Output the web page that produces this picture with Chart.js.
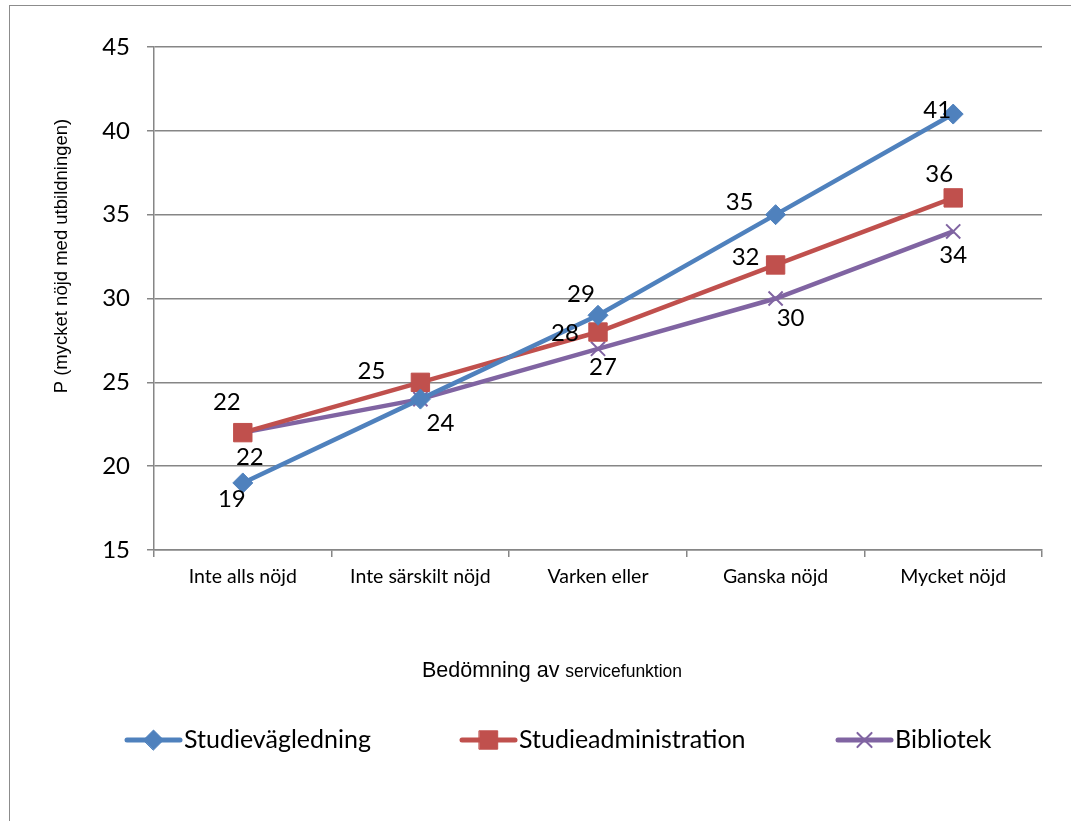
<!DOCTYPE html>
<html>
<head>
<meta charset="utf-8">
<script src="https://cdn.jsdelivr.net/npm/chart.js@4.4.1/dist/chart.umd.min.js"></script>
<style>
  html, body { margin: 0; padding: 0; background: #fff; }
  #wrap { position: relative; width: 1071px; height: 821px; overflow: hidden; }
  #frame { position: absolute; left: 9px; top: 5px; width: 1080px; height: 840px; border: 1.5px solid #8c8c8c; box-sizing: border-box; }
  canvas { position: absolute; left: 0; top: 0; }
</style>
</head>
<body>
<div id="wrap">
  <div id="frame"></div>
  <canvas id="chart" width="1071" height="821"></canvas>
</div>
<script>
// Categories and values
const categories = ['Inte alls nöjd', 'Inte särskilt nöjd', 'Varken eller', 'Ganska nöjd', 'Mycket nöjd'];
const studievagledning = [19, 24, 29, 35, 41];
const studieadministration = [22, 25, 28, 32, 36];
const bibliotek = [22, 24, 27, 30, 34];
const yTicks = [15, 20, 25, 30, 35, 40, 45];

// Data label placement (offset from point), null = label hidden
const labelOffsets = [
    [[-11, 16], null, [-17, -21], [-36, -12], [-16, -4]],
    [[-16, -30], [-49, -11], [-33, 1], [-30, -8], [-14, -24]],
    [[7, 25], [20, 24], [5, 18], [15, 20], [0, 24]]
];

const colors = ['#4F81BD', '#C0504D', '#8064A2'];
const tickFont = 'Lato, "Open Sans", sans-serif';
const titleFont = 'Arial, "Liberation Sans", sans-serif';

const labelPlugin = {
    id: 'labels',
    afterDatasetsDraw(chart) {
        const ctx = chart.ctx;
        ctx.save();
        ctx.fillStyle = '#000';
        ctx.font = '24px ' + tickFont;
        ctx.textAlign = 'center';
        ctx.textBaseline = 'middle';
        chart.data.datasets.forEach((ds, d) => {
            const meta = chart.getDatasetMeta(d);
            meta.data.forEach((pt, i) => {
                const off = labelOffsets[d][i];
                if (!off) return;
                ctx.fillText(String(ds.data[i]), pt.x + off[0], pt.y + off[1]);
            });
        });
        ctx.restore();
    }
};

const decorPlugin = {
    id: 'decor',
    afterDraw(chart) {
        const ctx = chart.ctx;
        ctx.save();
        // y axis title
        ctx.fillStyle = '#000';
        ctx.font = '18.5px ' + titleFont;
        ctx.textAlign = 'center';
        ctx.textBaseline = 'middle';
        ctx.translate(62, 256);
        ctx.rotate(-Math.PI / 2);
        ctx.fillText('P (mycket nöjd med utbildningen)', 0, 0);
        ctx.restore();

        // x axis title, two sizes
        ctx.save();
        ctx.fillStyle = '#000';
        ctx.textBaseline = 'alphabetic';
        const a = 'Bedömning av ', b = 'servicefunktion';
        ctx.font = '21.5px ' + titleFont;
        const wa = ctx.measureText(a).width;
        ctx.font = '17.5px ' + titleFont;
        const wb = ctx.measureText(b).width;
        const x0 = 552 - (wa + wb) / 2;
        ctx.font = '21.5px ' + titleFont;
        ctx.fillText(a, x0, 677);
        ctx.font = '17.5px ' + titleFont;
        ctx.fillText(b, x0 + wa, 677);
        ctx.restore();

        // legend
        const items = [
            { x: 127, text: 'Studievägledning' },
            { x: 462, text: 'Studieadministration' },
            { x: 838, text: 'Bibliotek' }
        ];
        const y = 740;
        chart.data.datasets.forEach((ds, d) => {
            const it = items[d];
            ctx.save();
            ctx.strokeStyle = ds.borderColor;
            ctx.lineWidth = 5;
            ctx.lineCap = 'round';
            ctx.beginPath();
            ctx.moveTo(it.x, y);
            ctx.lineTo(it.x + 53, y);
            ctx.stroke();
            ctx.fillStyle = ds.pointBackgroundColor;
            ctx.strokeStyle = ds.pointBorderColor;
            ctx.lineWidth = ds.pointBorderWidth;
            Chart.helpers.drawPoint(ctx, {
                pointStyle: ds.pointStyle,
                radius: ds.pointRadius,
                borderWidth: ds.pointBorderWidth
            }, it.x + 26.5, y);
            ctx.fillStyle = '#000';
            ctx.font = '25px ' + tickFont;
            ctx.textAlign = 'left';
            ctx.textBaseline = 'middle';
            ctx.fillText(it.text, it.x + 57, y);
            ctx.restore();
        });
    }
};

function series(label, data, color, style, radius, bw) {
    return {
        label: label,
        data: data,
        borderColor: color,
        backgroundColor: color,
        borderWidth: 4.5,
        pointStyle: style,
        pointRadius: radius,
        pointHoverRadius: radius,
        pointBackgroundColor: color,
        pointBorderColor: color,
        pointBorderWidth: bw,
        tension: 0,
        fill: false
    };
}

new Chart(document.getElementById('chart'), {
    type: 'line',
    data: {
        labels: categories,
        datasets: [
            series('Studievägledning', studievagledning, colors[0], 'rectRot', 10, 1),
            series('Studieadministration', studieadministration, colors[1], 'rect', 13, 1),
            series('Bibliotek', bibliotek, colors[2], 'crossRot', 10, 2)
        ]
    },
    options: {
        responsive: false,
        animation: false,
        devicePixelRatio: 1,
        layout: { padding: { left: 0, top: 47, right: 29, bottom: 0 } },
        plugins: {
            legend: { display: false },
            tooltip: { enabled: false }
        },
        scales: {
            x: {
                type: 'category',
                offset: true,
                afterFit: s => { s.height = 271; },
                grid: {
                    offset: true,
                    drawOnChartArea: false,
                    color: '#868686',
                    lineWidth: 1.5,
                    tickLength: 7
                },
                border: { color: '#868686', width: 1.5 },
                ticks: {
                    color: '#000',
                    padding: 8,
                    maxRotation: 0,
                    font: { family: tickFont, size: 19.5 }
                }
            },
            y: {
                min: 15,
                max: 45,
                afterFit: s => { s.width = 154; },
                afterBuildTicks: s => { s.ticks = yTicks.map(v => ({ value: v })); },
                grid: {
                    color: '#868686',
                    lineWidth: 1.5,
                    tickLength: 7
                },
                border: { color: '#868686', width: 1.5 },
                ticks: {
                    color: '#000',
                    padding: 17,
                    font: { family: tickFont, size: 24 }
                }
            }
        }
    },
    plugins: [labelPlugin, decorPlugin]
});
</script>
</body>
</html>
